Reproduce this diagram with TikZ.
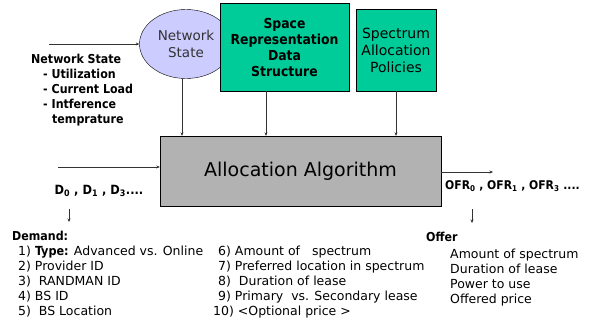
\documentclass[tikz,border=0pt]{standalone}
\usepackage{fontspec}
\setmainfont{DejaVu Sans}
\newfontfamily\headfont{DejaVu Sans Condensed}
\usetikzlibrary{arrows.meta}
\usetikzlibrary{shapes.geometric}

\definecolor{ellfill}{HTML}{CCCCFF}
\definecolor{boxgreen}{HTML}{00CC99}
\definecolor{boxgray}{HTML}{B2B2B2}

\tikzset{
  flow/.style={-{Stealth[length=3.5pt, width=3pt]}, black!80, line width=0.5pt},
  greenbox/.style={draw, fill=boxgreen, line width=0.6pt, inner sep=0pt, align=center},
  listtext/.style={anchor=north west, inner sep=0pt, align=left, font=\fontsize{12.5}{15}\selectfont},
  headtext/.style={anchor=north west, inner sep=0pt, align=left, font=\headfont\bfseries\fontsize{12.3}{15}\selectfont}
}

\begin{document}
\begin{tikzpicture}[x=1pt, y=-1pt]
      \useasboundingbox (0,0) rectangle (590,322);

      % upper row
      \node[ellipse, draw, fill=ellfill, minimum width=93pt, minimum height=69pt, inner sep=0pt,
            align=center, text=black!80, font=\fontsize{13.5}{17}\selectfont] (netstate) at (186,44) {Network\\State};
      \node[greenbox, minimum width=129pt, minimum height=88pt, font=\headfont\bfseries\fontsize{13.8}{16}\selectfont] (spacerep) at (284.5,47) {Space\\Representation\\Data\\Structure};
      \node[greenbox, minimum width=80pt, minimum height=82pt, font=\fontsize{14}{17}\selectfont] (policies) at (396,50) {Spectrum\\Allocation\\Policies};

      % algorithm box
      \node[draw, fill=boxgray, minimum width=281pt, minimum height=70pt, inner sep=0pt,
            font=\fontsize{19}{22}\selectfont] (algo) at (300.5,171) {Allocation Algorithm};

      \coordinate (nsin) at (49,44);
      \coordinate (din) at (58,167);
      \coordinate (ofrout) at (493,172);

      \draw[flow] (nsin) -- (netstate.west);
      \draw[flow] (netstate.south -| 182,0) -- (algo.north -| 182,0);
      \draw[flow] (spacerep.south) ++(-18.5,0) -- (algo.north -| 266,0);
      \draw[flow] (policies.south) -- (algo.north -| policies.south);
      \draw[flow] (din) -- (algo.west |- din);
      \draw[flow] (algo.east |- ofrout) -- (ofrout);

      % network state inputs
      \node[headtext] (nslist) at (31,54)
        {Network State\\\hspace*{12pt}- Utilization\\\hspace*{12pt}- Current Load\\\hspace*{12pt}- Intference\\\hspace*{21pt}temprature};

      % demands
      \node[font=\headfont\bfseries\fontsize{12.7}{14}\selectfont, inner sep=0pt] (dlabel) at (99,191) {D\textsubscript{0} , D\textsubscript{1} , D\textsubscript{3}....};
      \coordinate (dtop) at (69,209);
      \coordinate (dbot) at (69,222);
      \draw[flow] (dtop) -- (dbot);
      \node[headtext] (demand) at (12,231) {Demand:};
      \node[listtext] (demleft) at (18,246)
        {1) {\headfont\bfseries Type:} Advanced vs. Online\\2) Provider ID\\3)\ \ RANDMAN ID\\4) BS ID\\5)\ \ BS Location};
      \node[listtext] (demright) at (213,246)
        {\hspace*{5pt}6) Amount of\ \ \ spectrum\\\hspace*{5pt}7) Preferred location in spectrum\\\hspace*{5pt}8)\ \ Duration of lease\\\hspace*{5pt}9) Primary\ \ vs. Secondary lease\\10) {<}Optional price {>}};

      % offers
      \node[anchor=west, font=\headfont\bfseries\fontsize{12}{14}\selectfont, inner sep=0pt] (ofrlabel) at (445,186) {OFR\textsubscript{0} , OFR\textsubscript{1} , OFR\textsubscript{3} ....};
      \coordinate (otop) at (472,209);
      \coordinate (obot) at (472,223);
      \draw[flow] (otop) -- (obot);
      \node[headtext] (offer) at (426,232) {Offer};
      \node[listtext] (offlist) at (450,249)
        {Amount of spectrum\\Duration of lease\\Power to use\\Offered price};
\end{tikzpicture}
\end{document}
